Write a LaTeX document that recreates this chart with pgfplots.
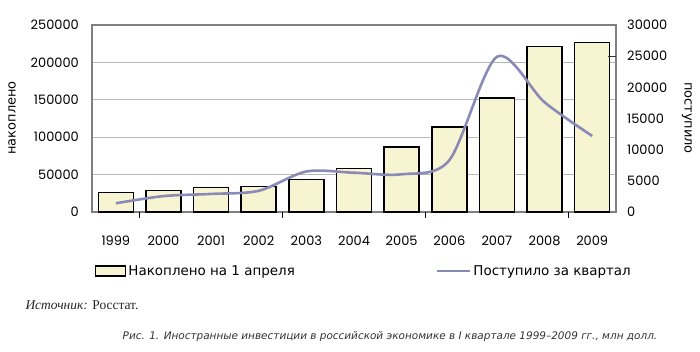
\documentclass[border=0pt]{standalone}
\usepackage{fontspec}
\setmainfont{DejaVu Sans}
\newfontfamily\numfont{Poppins}
\newfontfamily\serifont{Liberation Serif}
\usepackage{pgfplots}
\pgfplotsset{compat=1.18}
\definecolor{barfill}{HTML}{F7F4D2}
\definecolor{linec}{HTML}{8A8AB6}
\definecolor{gridc}{HTML}{B8B8B8}
\definecolor{framec}{HTML}{7F7F7F}
\pgfplotsset{
  barlegend/.style={legend image code/.code={\draw[##1, line width=1.3bp] (0bp,-5bp) rectangle (30bp,5bp);}},
  linelegend/.style={legend image code/.code={\draw[##1] (0bp,0bp) -- (33bp,0bp);}},
}
\begin{document}
\begin{tikzpicture}[x=1bp,y=1bp]
\useasboundingbox (0,0) rectangle (700,351);
\begin{axis}[
  at={(92bp,139bp)}, anchor=south west,
  scale only axis, width=524bp, height=187bp,
  xmin=-0.5, xmax=10.5, ymin=0, ymax=250000,
  axis line style={framec, line width=1.8bp},
  ytick={0,50000,100000,150000,200000,250000},
  ymajorgrids, grid style={gridc, line width=1.3bp},
  major tick length=0pt,
  scaled y ticks=false,
  /pgf/number format/fixed,
  /pgf/number format/1000 sep={},
  /pgf/number format/assume math mode=true,
  yticklabel style={font=\numfont\fontsize{13}{15}\selectfont, inner sep=0pt, anchor=east, xshift=-13bp},
  xtick={0,1,2,3,4,5,6,7,8,9,10},
  xticklabels={1999,2000,2001,2002,2003,2004,2005,2006,2007,2008,2009},
  xticklabel style={font=\numfont\fontsize{13}{15}\selectfont, inner sep=0pt, anchor=north, yshift=-24bp},
  xtick pos=bottom, ytick pos=left,
  extra x ticks={0.5,3.5,6.5,9.5}, extra x tick labels={},
  extra x tick style={major tick length=6bp, tick align=outside, grid=none, tick style={black, line width=0.8bp}},
  ylabel={накоплено},
  ylabel style={at={(axis description cs:-0.1527,0.5027)}, anchor=center, font=\fontsize{13}{15}\selectfont},
  legend columns=2,
  legend style={draw=none, fill=none, at={(axis description cs:0.0057,-0.3155)}, anchor=west, inner sep=0pt,
    font=\fontsize{13.5}{15}\selectfont, nodes={inner xsep=2bp, inner ysep=0pt},
    /tikz/every even column/.append style={column sep=139bp}},
]
\addplot[ybar, bar width=35bp, fill=barfill, draw=black, line width=1.6bp, barlegend] coordinates {
(0,26300) (1,28500) (2,32500) (3,34300) (4,43700) (5,57900)
(6,86500) (7,114000) (8,152800) (9,221000) (10,226800)};
\addlegendentry{Накоплено на 1 апреля}
\addlegendimage{linec, line width=2.6bp, linelegend}
\addlegendentry{Поступило за квартал}
\end{axis}
\begin{axis}[
  at={(92bp,139bp)}, anchor=south west,
  scale only axis, width=524bp, height=187bp,
  xmin=-0.5, xmax=10.5, ymin=0, ymax=30000,
  axis y line*=right, axis x line=none,
  axis line style={framec, line width=1.8bp},
  ytick={0,5000,10000,15000,20000,25000,30000},
  major tick length=0pt,
  scaled y ticks=false,
  /pgf/number format/fixed,
  /pgf/number format/1000 sep={},
  /pgf/number format/assume math mode=true,
  yticklabel style={font=\numfont\fontsize{13}{15}\selectfont, inner sep=0pt, anchor=west, xshift=11bp},
  extra y ticks={25000}, extra y tick labels={},
  extra y tick style={major tick length=8bp, tick align=inside, tick style={black!80, line width=0.8bp}},
  ylabel={поступило},
  ylabel style={at={(axis description cs:1.1355,0.5027)}, anchor=center, rotate=180, font=\fontsize{13}{15}\selectfont},
]
\addplot[linec, line width=2.6bp, smooth, tension=0.5] coordinates {
(0,1400) (1,2550) (2,2900) (3,3400) (4,6500) (5,6300)
(6,6050) (7,8300) (8,24900) (9,17600) (10,12200)};
\end{axis}
\node[anchor=west, font=\serifont\fontsize{13.5}{15}\selectfont, black!85] at (22,46) {\textit{Источник:} Росстат.};
\node[anchor=center, font=\itshape\fontsize{10.5}{12}\selectfont, black!80] at (390,14) {Рис. 1. Иностранные инвестиции в российской экономике в I квартале 1999–2009 гг., млн долл.};
\end{tikzpicture}
\end{document}
